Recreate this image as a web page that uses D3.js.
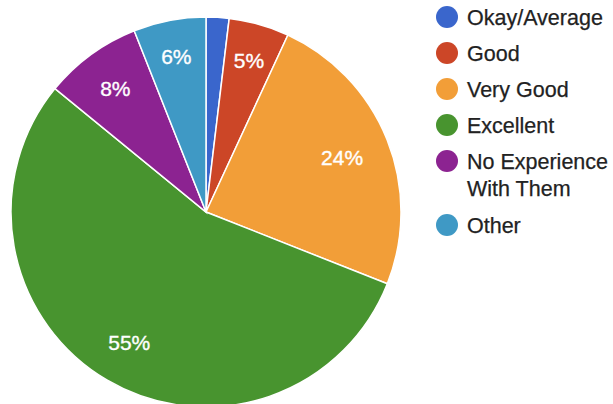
<!DOCTYPE html>
<html><head><meta charset="utf-8">
<script src="https://cdn.jsdelivr.net/npm/d3@7"></script>
<style>body{margin:0;background:#fff}svg{display:block}</style>
</head><body>
<script>
const categories = ["Okay/Average","Good","Very Good","Excellent","No Experience With Them","Other"];
const values = [1.9, 5.0, 24.1, 54.9, 8.1, 6.0];
const labels = ["","5%","24%","55%","8%","6%"];
const colors = ["#3a66cc","#cc4627","#f29e38","#48942f","#8c2391","#3f99c5"];
const legendLines = [["Okay/Average"],["Good"],["Very Good"],["Excellent"],["No Experience","With Them"],["Other"]];

const W=613,H=404;
const svg=d3.select("body").append("svg").attr("width",W).attr("height",H);
const cx=206, cy=212, r=195;
const data=categories.map((c,i)=>({c,v:values[i],i}));
const pie=d3.pie().value(d=>d.v).sort(null);
const arcs=pie(data);
const arc=d3.arc().innerRadius(0).outerRadius(r);
const g=svg.append("g").attr("transform",`translate(${cx},${cy})`);
g.selectAll("path").data(arcs).join("path")
  .attr("d",arc).attr("fill",d=>colors[d.data.i])
  .attr("stroke","#fff").attr("stroke-width",1.5);
const labs=g.selectAll("text").data(arcs).join("text")
  .attr("text-anchor","middle").attr("dy","0.36em")
  .attr("fill","#fff").attr("stroke","#fff").attr("stroke-width",0.35)
  .attr("font-family","Liberation Sans, Arial, sans-serif")
  .attr("font-size",21)
  .text(d=>labels[d.data.i]);
labs.each(function(d){
  const bb=this.getBBox();
  const a=(d.startAngle+d.endAngle)/2;
  const hw=bb.width/2, hh=8;
  const dist=r*0.867-(hw*Math.abs(Math.sin(a))+hh*Math.abs(Math.cos(a)));
  d3.select(this).attr("transform",`translate(${dist*Math.sin(a)},${-dist*Math.cos(a)})`);
});

const ys=[17,53,89,125,161,225];
const lg=svg.append("g");
legendLines.forEach((lines,i)=>{
  lg.append("circle").attr("cx",447).attr("cy",ys[i]).attr("r",11).attr("fill",colors[i]);
  const t=lg.append("text").attr("x",467).attr("y",ys[i])
    .attr("font-family","Liberation Sans, Arial, sans-serif").attr("font-size",21.5)
    .attr("fill","#222").attr("stroke","#222").attr("stroke-width",0.25);
  lines.forEach((l,j)=>{
    t.append("tspan").attr("x",467).attr("dy", j===0?"0.36em":"1.26em").text(l);
  });
});
</script>
</body></html>
